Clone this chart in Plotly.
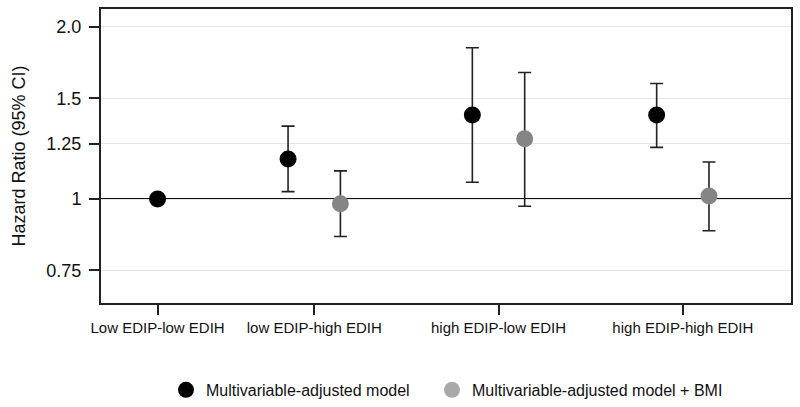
import plotly.graph_objects as go

categories = ["Low EDIP-low EDIH", "low EDIP-high EDIH", "high EDIP-low EDIH", "high EDIP-high EDIH"]
cat_pos = [1.15, 2.0, 3.0, 4.0]

# Multivariable-adjusted model
m1_hr = [1.00, 1.175, 1.403, 1.403]
m1_lo = [None, 1.030, 1.070, 1.231]
m1_hi = [None, 1.341, 1.839, 1.592]

# Multivariable-adjusted model + BMI (no estimate for reference group)
m2_hr = [0.981, 1.274, 1.012]
m2_lo = [0.860, 0.971, 0.880]
m2_hi = [1.120, 1.664, 1.161]

ytick_vals = [0.75, 1, 1.25, 1.5, 2.0]
ytick_text = ["0.75", "1", "1.25", "1.5", "2.0"]

off = 0.142
x1 = [cat_pos[0]] + [p - off for p in cat_pos[1:]]
x2 = [p + off for p in cat_pos[1:]]

def err(hr, lo, hi):
    plus = [(h - hr_) if h is not None else 0 for hr_, h in zip(hr, hi)]
    minus = [(hr_ - l) if l is not None else 0 for hr_, l in zip(hr, lo)]
    return plus, minus

p1, mi1 = err(m1_hr, m1_lo, m1_hi)
p2, mi2 = err(m2_hr, m2_lo, m2_hi)

fig = go.Figure()

fig.add_trace(go.Scatter(
    x=x1, y=m1_hr, mode="markers",
    marker=dict(color="black", size=17),
    error_y=dict(type="data", symmetric=False, array=p1, arrayminus=mi1,
                 color="#222222", thickness=1.6, width=6.5),
    showlegend=False,
))
fig.add_trace(go.Scatter(
    x=x2, y=m2_hr, mode="markers",
    marker=dict(color="#858585", size=17),
    error_y=dict(type="data", symmetric=False, array=p2, arrayminus=mi2,
                 color="#222222", thickness=1.6, width=6.5),
    showlegend=False,
))
# legend entries
fig.add_trace(go.Scatter(x=[None], y=[None], mode="markers",
                         marker=dict(color="black", size=18),
                         name="Multivariable-adjusted model", legend="legend"))
fig.add_trace(go.Scatter(x=[None], y=[None], mode="markers",
                         marker=dict(color="#a9a9a9", size=18),
                         name="Multivariable-adjusted model + BMI", legend="legend2"))

fig.add_hline(y=1, line=dict(color="#111111", width=2), layer="below")

leg_common = dict(orientation="h", xref="container", yref="container",
                  xanchor="left", y=0.042, yanchor="middle",
                  font=dict(size=16), bgcolor="rgba(0,0,0,0)")

fig.update_layout(
    width=800, height=407,
    margin=dict(l=101, r=8, t=7, b=104),
    paper_bgcolor="white", plot_bgcolor="white",
    font=dict(family="Liberation Sans, Arial, sans-serif", color="#111111"),
    legend=dict(x=0.2075, **leg_common),
    legend2=dict(x=0.54, **leg_common),
)
fig.update_xaxes(
    range=[0.843, 4.587], tickvals=cat_pos, ticktext=categories,
    ticks="outside", ticklen=10, tickwidth=1.5, tickcolor="#222222",
    showgrid=False, zeroline=False,
    showline=True, linecolor="#222222", linewidth=2, mirror=True,
    tickfont=dict(size=15),
)
fig.update_yaxes(
    type="log", range=[-0.1818, 0.3322],
    tickvals=ytick_vals, ticktext=ytick_text,
    ticks="outside", ticklen=10, tickwidth=1.5, tickcolor="#222222",
    ticklabelstandoff=4,
    showgrid=True, gridcolor="#e6e6e6", gridwidth=1.2, zeroline=False,
    showline=True, linecolor="#222222", linewidth=2, mirror=True,
    tickfont=dict(size=18),
    title=dict(text="Hazard Ratio (95% CI)", font=dict(size=18), standoff=16),
)

fig.write_html("out.html", config={"displayModeBar": False},
               post_script="document.body.style.margin='0';")
